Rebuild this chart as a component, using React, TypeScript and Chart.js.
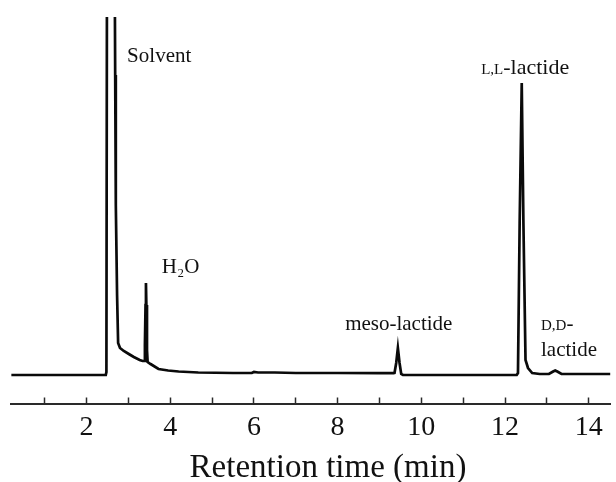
import React, { useEffect, useRef } from "react";
import { Chart, registerables } from "chart.js";

Chart.register(...registerables);

// Retention time (min) and detector signal (arbitrary units, baseline = 0)
const retentionTime = [
  0.2, 2.46, 2.475, 2.49, 2.58, 2.672, 2.685, 2.7, 2.73, 2.755, 2.8, 2.89, 3.01, 3.13, 3.27, 3.34,
  3.38, 3.395, 3.41, 3.42, 3.43, 3.445, 3.46, 3.53, 3.72, 3.95, 4.2, 4.67, 5.5, 5.95, 6.0, 6.1, 6.5,
  7.0, 8.0, 9.0, 9.34, 9.36, 9.4, 9.44, 9.48, 9.52, 9.56, 10.5, 11.5, 12.28, 12.31, 12.35, 12.4,
  12.44, 12.49, 12.55, 12.65, 12.83, 13.05, 13.15, 13.2, 13.25, 13.35, 14.0, 14.52,
];
const signal = [
  0, 0, 3, 450, 800, 420, 300, 170, 80, 32, 27, 24, 21, 18, 15, 14,
  14, 30, 70, 92, 70, 25, 13, 11, 6, 4.5, 3.5, 2.5, 2, 2, 3, 2.5, 2.5,
  2, 2, 1.8, 1.8, 2, 12, 27, 12, 1, 0, 0, 0, 0, 2, 152, 292,
  152, 15, 7, 2, 1, 1, 3.5, 4.5, 3.5, 1, 1, 1,
];

const xTickLabels = ["2", "4", "6", "8", "10", "12", "14"];
const xTitle = "Retention time (min)";
const xTitleCenterTime = 7.77;

// Peak annotations: anchor in data coordinates (time, signal), text parts (small caps via smaller size)
const peakLabelTimes = [2.97, 3.8, 8.18, 11.43, 12.86, 12.86];
const peakLabelSignals = [313, 102, 45, 301, 45, 19];
const peakLabelParts = [
  [{ text: "Solvent", size: 21 }],
  [{ text: "H₂O", size: 21 }],
  [{ text: "meso-lactide", size: 21 }],
  [{ text: "L,L", size: 15 }, { text: "-lactide", size: 22 }],
  [{ text: "D,D", size: 15 }, { text: "-", size: 21 }],
  [{ text: "lactide", size: 21 }],
];

const SERIF = '"Liberation Serif", "Times New Roman", Times, serif';

const peakLabelPlugin = {
  id: "peakLabels",
  afterDraw(chart: any) {
    const { ctx } = chart;
    const xs = chart.scales.x;
    const ys = chart.scales.y;
    ctx.save();
    ctx.fillStyle = "#111";
    ctx.textAlign = "left";
    ctx.textBaseline = "alphabetic";
    peakLabelParts.forEach((parts, i) => {
      let px = xs.getPixelForValue(peakLabelTimes[i]);
      const py = ys.getPixelForValue(peakLabelSignals[i]);
      parts.forEach((p) => {
        ctx.font = `${p.size}px ${SERIF}`;
        ctx.fillText(p.text, px, py);
        px += ctx.measureText(p.text).width;
      });
    });
    // axis title
    ctx.font = `33px ${SERIF}`;
    ctx.textAlign = "center";
    ctx.fillText(xTitle, xs.getPixelForValue(xTitleCenterTime), xs.bottom + 19);
    ctx.restore();
  },
};

export default function App() {
  const canvasRef = useRef<HTMLCanvasElement | null>(null);

  useEffect(() => {
    if (!canvasRef.current) return;
    const data = retentionTime.map((t, i) => ({ x: t, y: signal[i] }));
    const chart = new Chart(canvasRef.current, {
      type: "line",
      data: {
        datasets: [
          {
            data,
            borderColor: "#0a0a0a",
            borderWidth: 2.7,
            pointRadius: 0,
            tension: 0,
            fill: false,
          },
        ],
      },
      options: {
        animation: false,
        responsive: false,
        events: [],
        layout: { padding: { left: 11.2, right: 0, top: 17, bottom: 24.3 } },
        plugins: { legend: { display: false }, tooltip: { enabled: false } },
        scales: {
          x: {
            type: "linear",
            position: "bottom",
            min: 0.2,
            max: 14.52,
            border: { display: true, color: "#2a2a2a", width: 2 },
            grid: {
              display: true,
              drawOnChartArea: false,
              drawTicks: true,
              tickLength: -6,
              tickWidth: 1.5,
              tickColor: "#2a2a2a",
            },
            ticks: {
              stepSize: 1,
              includeBounds: false,
              autoSkip: false,
              maxRotation: 0,
              padding: 13.3,
              color: "#111",
              font: { family: SERIF, size: 28 },
              callback: (v: any) => (xTickLabels.includes(String(v)) ? String(v) : ""),
            },
            title: { display: false },
          },
          y: { display: false, min: -28.5, max: 358 },
        },
      },
      plugins: [peakLabelPlugin],
    } as any);
    return () => chart.destroy();
  }, []);

  return (
    <div style={{ position: "absolute", left: 0, top: 0, width: 616, height: 482, background: "#fff" }}>
      <canvas ref={canvasRef} width={616} height={482} style={{ display: "block" }} />
    </div>
  );
}
